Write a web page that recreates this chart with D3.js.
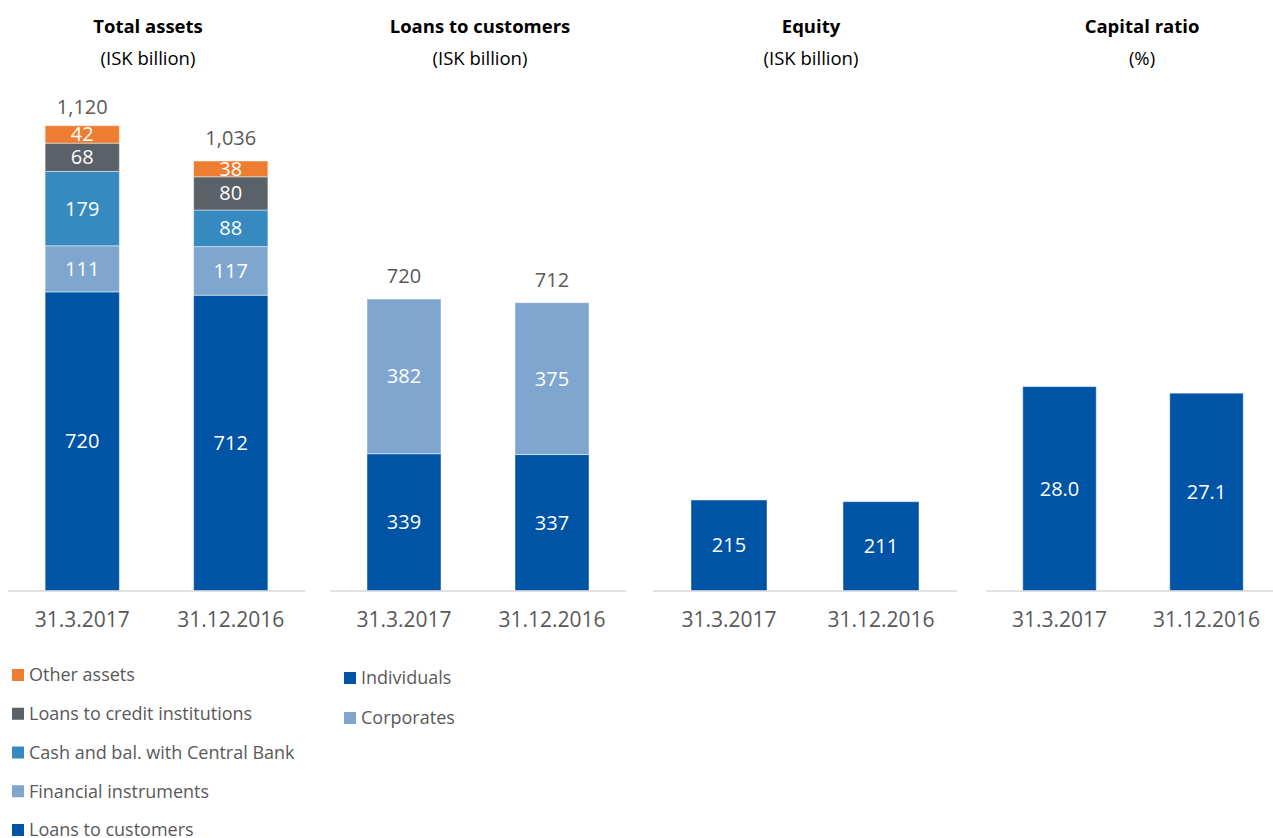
<!DOCTYPE html>
<html><head><meta charset="utf-8">
<script src="https://cdn.jsdelivr.net/npm/d3@7"></script>
<style>body{margin:0;background:#fff}svg{display:block;font-family:"Open Sans",sans-serif}</style>
</head><body><svg id="c" width="1273" height="838"></svg>
<script>
// ---- data ----
const dates = ["31.3.2017", "31.12.2016"];
const assetSeries = ["Loans to customers", "Financial instruments", "Cash and bal. with Central Bank", "Loans to credit institutions", "Other assets"];
const assetLoans = [720, 712];
const assetFinancial = [111, 117];
const assetCash = [179, 88];
const assetCredit = [68, 80];
const assetOther = [42, 38];
const assetTotals = ["1,120", "1,036"];
const loanSeries = ["Individuals", "Corporates"];
const loanIndividuals = [339, 337];
const loanCorporates = [382, 375];
const loanTotals = ["720", "712"];
const equity = [215, 211];
const capitalRatio = [28.0, 27.1];
const titles = ["Total assets", "Loans to customers", "Equity", "Capital ratio"];
const subtitles = ["(ISK billion)", "(ISK billion)", "(ISK billion)", "(%)"];

// ---- styles ----
const C = {
  "Loans to customers": "#0054a6", "Financial instruments": "#7fa6ce", "Cash and bal. with Central Bank": "#368abf",
  "Loans to credit institutions": "#5a6169", "Other assets": "#ed7d31", "Individuals": "#0054a6", "Corporates": "#7fa6ce"
};
const gray = "#595959";
const svg = d3.select("#c");
const baseY = 591, plotTop = 80;

const panels = [
  {x0: 8, x1: 305, ymax: 1230, tx: 148, series: assetSeries, values: [assetLoans, assetFinancial, assetCash, assetCredit, assetOther], totals: assetTotals, fmt: d3.format("d")},
  {x0: 330, x1: 626, ymax: 1262, tx: 480, series: loanSeries, values: [loanIndividuals, loanCorporates], totals: loanTotals, fmt: d3.format("d")},
  {x0: 653, x1: 957, ymax: 1207, tx: 811, series: ["Individuals"], values: [equity], totals: null, fmt: d3.format("d")},
  {x0: 986, x1: 1280, ymax: 70, tx: 1142, series: ["Individuals"], values: [capitalRatio], totals: null, fmt: d3.format(".1f")}
];

panels.forEach((p, pi) => {
  const g = svg.append("g");
  const x = d3.scaleBand().domain(dates).range([p.x0, p.x1]).paddingInner(0.5).paddingOuter(0.25);
  const y = d3.scaleLinear().domain([0, p.ymax]).range([baseY, plotTop]);
  const rows = dates.map((d, i) => { const o = {date: d}; p.series.forEach((s, k) => o[s] = p.values[k][i]); return o; });
  const stacked = d3.stack().keys(p.series)(rows);

  // titles
  g.append("text").attr("x", p.tx).attr("y", 33).attr("text-anchor", "middle").attr("font-weight", "bold")
    .attr("font-size", 18.5).attr("fill", "#000").text(titles[pi]);
  g.append("text").attr("x", p.tx).attr("y", 64.5).attr("text-anchor", "middle")
    .attr("font-size", 18.5).attr("fill", "#000").text(subtitles[pi]);

  stacked.forEach(layer => {
    const lg = g.append("g");
    lg.selectAll("rect").data(layer).join("rect")
      .attr("x", d => x(d.data.date)).attr("width", x.bandwidth())
      .attr("y", d => y(d[1])).attr("height", d => y(d[0]) - y(d[1]))
      .attr("fill", C[layer.key]).attr("stroke", "#ffffff").attr("stroke-opacity", 0.45).attr("stroke-width", 1);
    lg.selectAll("text").data(layer).join("text")
      .attr("x", d => x(d.data.date) + x.bandwidth() / 2)
      .attr("y", d => (y(d[0]) + y(d[1])) / 2).attr("dy", "0.35em")
      .attr("text-anchor", "middle").attr("font-size", 20).attr("fill", "#fff")
      .text(d => p.fmt(d[1] - d[0]));
  });

  if (p.totals) {
    const last = stacked[stacked.length - 1];
    g.selectAll("text.tot").data(last).join("text").attr("class", "tot")
      .attr("x", d => x(d.data.date) + x.bandwidth() / 2)
      .attr("y", (d, i) => y(d[1]) - (i === 0 && pi === 0 ? 12 : 16))
      .attr("text-anchor", "middle").attr("font-size", 20).attr("fill", gray)
      .text((d, i) => p.totals[i]);
  }

  // axis
  const ax = g.append("g").attr("transform", `translate(0,${baseY})`).call(d3.axisBottom(x).tickSize(0).tickPadding(21));
  ax.select(".domain").attr("stroke", "#d9d9d9").attr("stroke-width", 1.5).attr("d", `M${p.x0},0H${p.x1}`);
  ax.selectAll("text").attr("font-size", 21).attr("fill", gray).attr("font-family", "Open Sans, sans-serif");
});

// legends
const leg1 = assetSeries.slice().reverse();
const lg1 = svg.append("g").selectAll("g").data(leg1).join("g")
  .attr("transform", (d, i) => `translate(12,${675 + i * 38.75})`);
lg1.append("rect").attr("x", 0).attr("y", -6).attr("width", 12).attr("height", 12).attr("fill", d => C[d]);
lg1.append("text").attr("x", 17).attr("dy", "0.35em").attr("font-size", 18).attr("fill", gray).text(d => d);

const lg2 = svg.append("g").selectAll("g").data(loanSeries).join("g")
  .attr("transform", (d, i) => `translate(344,${678 + i * 40})`);
lg2.append("rect").attr("x", 0).attr("y", -6).attr("width", 12).attr("height", 12).attr("fill", d => C[d]);
lg2.append("text").attr("x", 17).attr("dy", "0.35em").attr("font-size", 18).attr("fill", gray).text(d => d);
</script></body></html>
